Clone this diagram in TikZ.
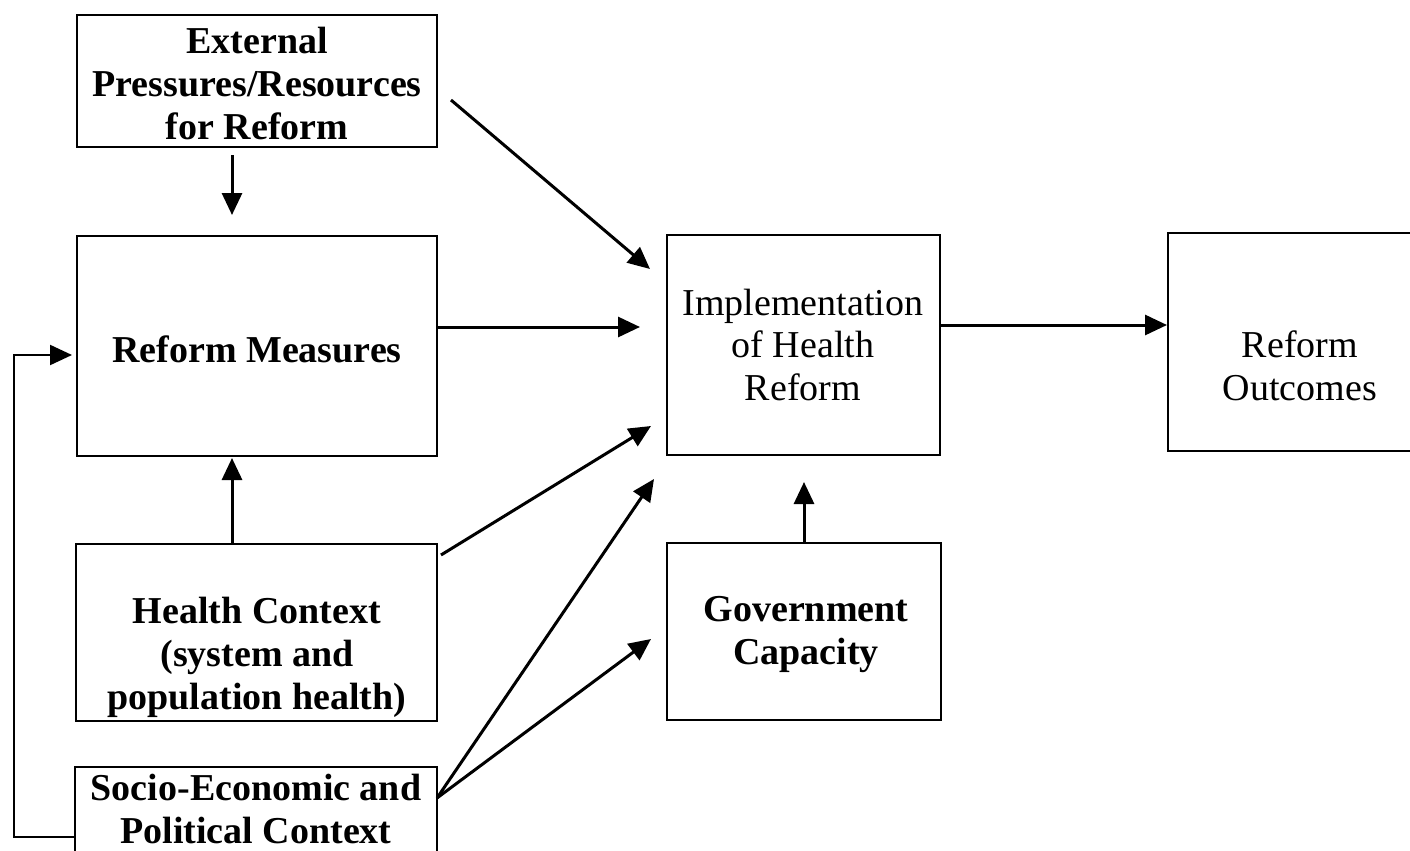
\documentclass[tikz,border=0pt]{standalone}
\usepackage{fontspec}
\setmainfont{Liberation Serif}
\usetikzlibrary{arrows.meta,calc}
\begin{document}
\begin{tikzpicture}[x=0.5pt,y=-0.5pt,
  box/.style={draw,line width=1pt,inner sep=0pt,fill=white},
  lbl/.style={align=center,inner sep=0pt,font=\fontsize{19}{21.5}\selectfont},
  blbl/.style={lbl,font=\fontsize{19}{21.5}\selectfont\bfseries},
  arr/.style={line width=1.5pt,-{Triangle[width=10pt,length=11pt]}},
  fb/.style={line width=1.1pt,-{Triangle[width=10pt,length=11pt]}}]
\useasboundingbox (0,0) rectangle (1410,851);
\clip (0,0) rectangle (1410,851);
\fill[white] (0,0) rectangle (1410,851);
% boxes
\node[box,minimum width=180pt,minimum height=66pt] (ext) at (257,81) {};
\node[box,minimum width=180pt,minimum height=110pt] (rm) at (257,346) {};
\node[box,minimum width=180.5pt,minimum height=88.5pt] (hc) at (256.5,632.5) {};
\node[box,minimum width=181pt,minimum height=51.5pt] (se) at (256,818.5) {};
\node[box,minimum width=136.5pt,minimum height=110pt] (impl) at (803.5,345) {};
\node[box,minimum width=137pt,minimum height=88.5pt] (gov) at (804,631.5) {};
\node[box,minimum width=131pt,minimum height=109pt] (out) at (1299,342) {};
% labels
\node[blbl] (extT) at (257,84) {External\\Pressures/Resources\\for Reform};
\node[blbl] (rmT) at (257,349) {Reform Measures};
\node[blbl] (hcT) at (257,657) {Health Context\\(system and\\population health)};
\node[blbl] (seT) at (256,809) {Socio-Economic and\\Political Context};
\node[lbl] (implT) at (803,345) {Implementation\\of Health\\Reform};
\node[blbl] (govT) at (806,635) {Government\\Capacity};
\node[lbl] (outT) at (1300,366) {Reform\\Outcomes};
% free ends
\coordinate (e1) at (232,155);
\coordinate (e2) at (232,215);
\coordinate (e3) at (451,100);
\coordinate (e4) at (650,269);
\coordinate (e5) at (640,327);
\coordinate (e6) at (441,555);
\coordinate (e7) at (651,426);
\coordinate (e8) at (437,798);
\coordinate (e9) at (654,479);
\coordinate (e10) at (651,639);
\coordinate (e11) at (232,458);
\coordinate (e12) at (804,482);
\coordinate (fb1) at (14,837);
\coordinate (fb2) at (14,355);
\coordinate (fb3) at (72,355);
% connectors
\draw[arr] (e1) -- (e2);
\draw[arr] (e3) -- (e4);
\draw[arr] ($(rm.east)+(0,-19)$) -- (e5);
\draw[arr] ($(impl.east)+(0,-20)$) -- ($(out.west)+(0,-17)$);
\draw[arr] ($(hc.north)+(-24.5,0)$) -- (e11);
\draw[arr] (gov.north) -- (e12);
\draw[arr] (e6) -- (e7);
\draw[arr] (e8) -- (e9);
\draw[arr] (e8) -- (e10);
\draw[fb] ($(se.west)+(0,18.5)$) -- (fb1) -- (fb2) -- (fb3);
\end{tikzpicture}
\end{document}
